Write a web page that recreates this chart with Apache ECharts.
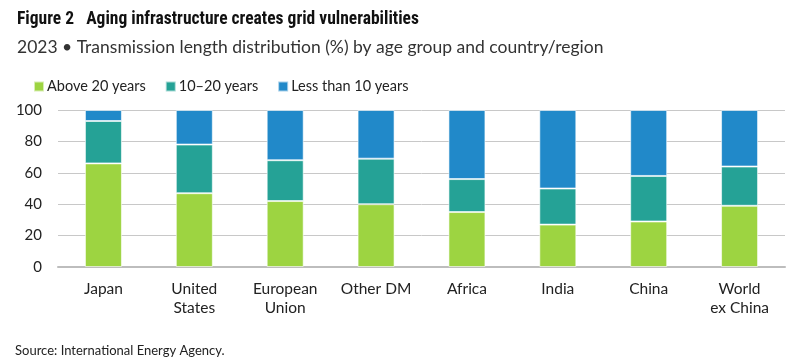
<!DOCTYPE html>
<html>
<head>
<meta charset="utf-8">
<script src="https://cdn.jsdelivr.net/npm/echarts@6/dist/echarts.min.js"></script>
<style>
html,body{margin:0;padding:0;background:#fff;}
#c{width:805px;height:361px;}
</style>
</head>
<body>
<div id="c"></div>
<script>
const categories = ['Japan', 'United\nStates', 'European\nUnion', 'Other DM', 'Africa', 'India', 'China', 'World\nex China'];
const above20 = [66, 47, 42, 40, 35, 27, 29, 39];
const tenTo20 = [27, 31, 26, 29, 21, 23, 29, 25];
const below10 = [7, 22, 32, 31, 44, 50, 42, 36];
const yTicks = [0, 20, 40, 60, 80, 100];

const FONT = 'Lato, "Noto Sans", sans-serif';
const TFONT = '"Roboto Condensed", Lato, sans-serif';
const chart = echarts.init(document.getElementById('c'));
const barStyle = (color) => ({ color: color, borderColor: 'rgba(255,255,255,0.6)', borderWidth: 1 });
chart.setOption({
  animation: false,
  textStyle: { fontFamily: FONT },
  title: [
    { text: 'Figure 2   Aging infrastructure creates grid vulnerabilities', left: 12, top: 6,
      textStyle: { fontFamily: TFONT, fontSize: 17.5, fontWeight: 'bold', color: '#111' } },
    { text: '2023 • Transmission length distribution (%) by age group and country/region', left: 12, top: 33,
      textStyle: { fontFamily: FONT, fontSize: 17.5, fontWeight: 'normal', color: '#333' } },
    { text: 'Source: International Energy Agency.', left: 10, top: 339,
      textStyle: { fontFamily: FONT, fontSize: 13, fontWeight: 'normal', color: '#222' } }
  ],
  legend: {
    left: 28, top: 74, itemWidth: 10, itemHeight: 10, itemGap: 19,
    icon: 'rect',
    textStyle: { fontFamily: FONT, fontSize: 14.5, color: '#222', padding: [0, 0, 0, -2] },
    data: ['Above 20 years', '10–20 years', 'Less than 10 years']
  },
  grid: { left: 58, right: 20, top: 110, bottom: 94 },
  xAxis: {
    type: 'category', data: categories,
    axisLine: { lineStyle: { color: '#bdbdbd', width: 2 } },
    axisTick: { show: false },
    axisLabel: { fontFamily: FONT, fontSize: 15.5, color: '#222', margin: 13, lineHeight: 18.5, interval: 0 }
  },
  yAxis: {
    type: 'value', min: 0, max: 100, interval: 20,
    axisLine: { show: false }, axisTick: { show: false },
    axisLabel: { fontFamily: FONT, fontSize: 15, color: '#222', margin: 16,
      formatter: (v) => yTicks.includes(v) ? String(v) : '' },
    splitLine: { lineStyle: { color: '#c8c8c8', width: 1 } }
  },
  series: [
    { name: 'Above 20 years', type: 'bar', stack: 's', barWidth: 37, data: above20, itemStyle: barStyle('#9dd441') },
    { name: '10–20 years', type: 'bar', stack: 's', barWidth: 37, data: tenTo20, itemStyle: barStyle('#25a296') },
    { name: 'Less than 10 years', type: 'bar', stack: 's', barWidth: 37, data: below10, itemStyle: barStyle('#2189c9') }
  ]
});
</script>
</body>
</html>
